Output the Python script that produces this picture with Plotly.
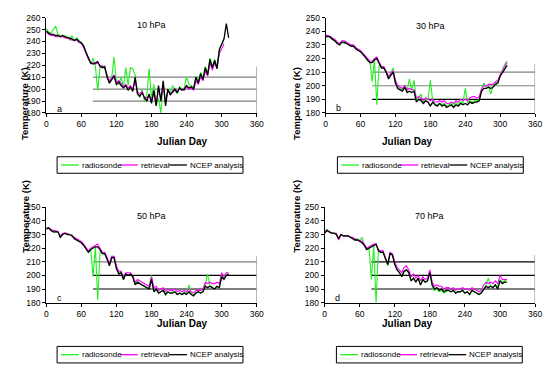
import plotly.graph_objects as go

W, H = 548, 366
days = list(range(0, 316, 4))  # Julian day 0..312

# ---------------- 10 hPa ----------------
nc10 = [249, 247, 246, 246, 245, 245, 244, 245, 244, 243, 243, 242, 241, 242, 240,
        239, 236, 231, 226, 222, 221, 222, 223, 219, 218, 219, 210, 205, 208, 211,
        204, 206, 203, 201, 203, 199, 202, 198, 210, 196, 194, 197, 193, 190, 196,
        188, 199, 186, 203, 190, 207, 186, 200, 195, 198, 200, 197, 201, 199, 200,
        203, 201, 202, 200, 210, 205, 213, 208, 218, 212, 225, 218, 224, 217, 233,
        237, 242, 255, 243]
rt10 = [248, 246, 245, 245, 244, 244, 244, 244, 243, 243, 242, 241, 241, 241, 239,
        238, 235, 230, 225, 222, 222, 221, 222, 220, 219, 218, 212, 207, 209, 212,
        206, 207, 205, 202, 204, 201, 203, 200, 207, 198, 196, 198, 192, 193, 194,
        191, 197, 188, 200, 192, 203, 189, 199, 196, 197, 199, 198, 200, 200, 199,
        202, 200, 201, 199, 207, 204, 210, 207, 215, 211, 222, 216, 222, 218, 230,
        234, 238, None, None]
rs10 = [251, 248, 247, 250, 253, 246, 245, 244, 245, 244, 241, 245, 240, 243, 241,
        239, 237, 231, 225, 221, 226, 219, 199, 218, 220, 217, 212, 206, 210, 227,
        205, 204, 210, 202, 218, 203, 218, 217, 212, 196, 193, 200, 190, 195, 217,
        192, 204, 187, 192, 180, 205, 190, 199, 197, 203, 199, 196, 202, 200, 201,
        210, 204, 203, 201, 211, 207, 214, 209, 219, 213, 226, 219, 225, 219, 234,
        238, 243, None, None]

# ---------------- 30 hPa ----------------
nc30 = [236, 236, 236, 234, 233, 231, 230, 232, 232, 231, 230, 229, 229, 227, 226,
        225, 223, 221, 219, 217, 217, 219, 220, 216, 213, 213, 210, 205, 208, 210,
        202, 198, 197, 196, 199, 195, 196, 195, 196, 188, 190, 189, 187, 189, 188,
        185, 188, 186, 185, 187, 185, 186, 184, 185, 186, 184, 186, 185, 187, 186,
        187, 186, 188, 187, 188, 188, 189, 196, 198, 198, 199, 198, 199, 201, 202,
        207, 210, 213, 215]
rt30 = [237, 237, 236, 235, 234, 232, 231, 233, 233, 232, 231, 230, 230, 228, 227,
        226, 224, 222, 220, 218, 218, 220, 221, 217, 214, 214, 211, 207, 209, 211,
        204, 200, 199, 198, 200, 197, 198, 197, 197, 191, 192, 191, 189, 191, 190,
        189, 190, 188, 188, 189, 188, 189, 187, 187, 188, 187, 189, 188, 190, 189,
        190, 189, 191, 192, 192, 191, 192, 198, 200, 200, 201, 201, 201, 203, 204,
        208, 211, 214, 217]
rs30 = [236, 237, 235, 234, 233, 231, 231, 232, 231, 231, 230, 230, 229, 228, 226,
        225, 223, 222, 218, 218, 203, 219, 186, 215, 214, 213, 210, 206, 209, 213,
        203, 199, 198, 197, 200, 196, 205, 197, 204, 189, 191, 194, 188, 190, 190,
        204, 189, 186, 186, 187, 186, 187, 185, 186, 187, 185, 188, 186, 188, 187,
        198, 188, 189, 188, 189, 189, 190, 197, 202, 199, 199, 194, 200, 202, 203,
        208, 212, 216, 218]

# ---------------- 50 hPa ----------------
nc50 = [234, 235, 233, 232, 232, 232, 228, 230, 231, 230, 230, 229, 227, 226, 225,
        224, 222, 219, 217, 219, 220, 221, 221, 219, 216, 216, 212, 207, 213, 213,
        205, 201, 202, 197, 201, 200, 201, 199, 193, 195, 194, 193, 192, 191, 190,
        197, 188, 190, 187, 188, 189, 186, 188, 187, 187, 188, 186, 187, 186, 187,
        186, 188, 186, 185, 187, 188, 187, 188, 192, 191, 192, 191, 190, 192, 191,
        199, 197, 200, 201]
rt50 = [235, 235, 234, 233, 233, 232, 229, 231, 231, 231, 230, 229, 228, 227, 226,
        225, 223, 220, 218, 220, 221, 222, 223, 220, 217, 217, 213, 209, 214, 214,
        207, 203, 203, 199, 202, 202, 202, 200, 195, 197, 196, 195, 194, 193, 192,
        199, 191, 192, 189, 190, 191, 188, 190, 189, 189, 190, 188, 189, 188, 189,
        188, 190, 188, 187, 189, 189, 189, 190, 195, 194, 195, 194, 194, 195, 194,
        202, 199, 202, 202]
rs50 = [234, 235, 233, 232, 232, 232, 228, 230, 231, 230, 230, 230, 227, 226, 225,
        224, 222, 220, 217, 219, 199, 221, 182, 218, 216, 216, 212, 208, 213, 213,
        205, 202, 203, 197, 201, 200, 201, 199, 194, 196, 194, 193, 192, 191, 191,
        200, 188, 190, 187, 188, 189, 185, 188, 187, 188, 188, 186, 187, 186, 188,
        187, 193, 186, 186, 187, 188, 187, 188, 193, 201, 192, 191, 190, 192, 191,
        200, 198, 201, 201]

# ---------------- 70 hPa ----------------
nc70 = [231, 233, 232, 231, 231, 230, 227, 230, 229, 229, 229, 228, 227, 226, 226,
        225, 224, 222, 219, 220, 221, 222, 223, 218, 217, 217, 212, 208, 216, 215,
        208, 204, 202, 199, 203, 204, 202, 196, 198, 195, 198, 193, 197, 195, 196,
        202, 193, 190, 191, 189, 190, 188, 189, 189, 188, 189, 187, 188, 188, 189,
        187, 188, 186, 189, 188, 187, 186, 187, 190, 192, 191, 192, 191, 193, 190,
        196, 194, 195, 195]
rt70 = [232, 233, 232, 231, 231, 231, 226, 230, 229, 229, 229, 228, 228, 227, 226,
        226, 225, 223, 220, 221, 222, 223, 223, 219, 218, 218, 213, 209, 217, 216,
        210, 206, 204, 202, 206, 207, 204, 199, 201, 198, 200, 196, 199, 197, 198,
        204, 195, 192, 193, 192, 192, 190, 191, 191, 190, 191, 189, 190, 190, 191,
        190, 190, 189, 191, 190, 189, 188, 189, 193, 195, 194, 195, 194, 196, 194,
        200, 197, 197, 197]
rs70 = [232, 234, 232, 231, 231, 230, 227, 230, 229, 229, 229, 228, 227, 226, 227,
        225, 228, 222, 219, 220, 197, 222, 180, 218, 217, 217, 212, 207, 216, 215,
        208, 204, 202, 199, 203, 204, 202, 196, 198, 196, 198, 193, 197, 195, 196,
        203, 192, 189, 190, 188, 189, 187, 188, 189, 188, 189, 187, 188, 188, 189,
        187, 188, 186, 189, 188, 187, 186, 188, 190, 193, 198, 192, 191, 193, 192,
        197, 195, 196, 197]

series_names = ["radiosonde", "retrieval", "NCEP analysis"]
series_colors = ["#22ee22", "#ff00ff", "#000000"]
ref_levels = [190, 200, 210]
ref_start_day = 80

panels = [
    dict(title="10 hPa", tag="a", data=[rs10, rt10, nc10], ymax=260, box=(45, 259, 13, 111),
         ref_colors=["#808080", "#808080", "#808080"], vtop=219),
    dict(title="30 hPa", tag="b", data=[rs30, rt30, nc30], ymax=250, box=(329, 542, 13, 111),
         ref_colors=["#000000", "#808080", "#808080"], vtop=216),
    dict(title="50 hPa", tag="c", data=[rs50, rt50, nc50], ymax=250, box=(45, 259, 208, 306),
         ref_colors=["#000000", "#000000", "#808080"], vtop=214),
    dict(title="70 hPa", tag="d", data=[rs70, rt70, nc70], ymax=250, box=(328, 542, 208, 306),
         ref_colors=["#000000", "#000000", "#000000"], vtop=215),
]

FONT = "Liberation Sans, Arial, sans-serif"
fig = go.Figure()
shapes, annotations = [], []
layout = {}


def px(xp):
    return xp / W


def py(yp):
    return 1 - yp / H


for i, p in enumerate(panels):
    k = "" if i == 0 else str(i + 1)
    xa, ya = "x" + k, "y" + k
    l, r, t, b = p["box"]
    for vals, name, col in zip(p["data"], series_names, series_colors):
        fig.add_trace(go.Scatter(x=days, y=vals, mode="lines", name=name,
                                 line=dict(color=col, width=1.1 if col != "#000000" else 1.3),
                                 xaxis=xa, yaxis=ya, showlegend=False, connectgaps=False))
    layout["xaxis" + k] = dict(domain=[px(l), px(r)], anchor=ya, range=[0, 360], dtick=60, tick0=0,
                               showline=True, linecolor="black", linewidth=1, ticks="outside",
                               ticklen=3, tickcolor="black", showgrid=False, zeroline=False,
                               tickfont=dict(size=8.5, family=FONT, color="black"))
    layout["yaxis" + k] = dict(domain=[py(b), py(t)], anchor=xa, range=[180, p["ymax"]], dtick=10,
                               showline=True, linecolor="black", linewidth=1, ticks="outside",
                               ticklen=3, tickcolor="black", showgrid=False, zeroline=False,
                               tickfont=dict(size=8.5, family=FONT, color="black"))
    # reference lines
    for lev, c in zip(ref_levels, p["ref_colors"]):
        shapes.append(dict(type="line", xref=xa, yref=ya, x0=ref_start_day, x1=360, y0=lev, y1=lev,
                           line=dict(color=c, width=1.2), layer="below"))
    shapes.append(dict(type="line", xref=xa, yref=ya, x0=360, x1=360, y0=180, y1=p["vtop"],
                       line=dict(color="#909090", width=1.2), layer="below"))
    # panel title & tag
    annotations.append(dict(xref=xa, yref=ya, x=180, y=p["ymax"] - 6.5, text=p["title"],
                            showarrow=False, font=dict(size=9, family=FONT, color="black")))
    annotations.append(dict(xref=xa, yref=ya, x=22, y=183.5, text=p["tag"],
                            showarrow=False, font=dict(size=9, family=FONT, color="black")))
    # axis titles
    annotations.append(dict(xref="paper", yref="paper", x=px((l + r) / 2 + 4), y=py(b + 29),
                            text="<b>Julian Day</b>", showarrow=False,
                            font=dict(size=10, family=FONT, color="black")))
    annotations.append(dict(xref="paper", yref="paper", x=px(l - 29), y=py((t + b) / 2),
                            text="<b>Temperature (K)</b>", textangle=-90, showarrow=False,
                            font=dict(size=9.5, family=FONT, color="black")))
    # legend box (drawn)
    lx = l + 11 if l < 100 else l + 12
    ly = b + 45
    shapes.append(dict(type="rect", xref="paper", yref="paper", x0=px(lx), x1=px(lx + 189),
                       y0=py(ly + 17), y1=py(ly), line=dict(color="black", width=1),
                       fillcolor="white"))
    offsets = [4, 64, 114]
    for off, name, col in zip(offsets, series_names, series_colors):
        shapes.append(dict(type="line", xref="paper", yref="paper", x0=px(lx + off),
                           x1=px(lx + off + 18), y0=py(ly + 8.5), y1=py(ly + 8.5),
                           line=dict(color=col, width=1.3)))
        annotations.append(dict(xref="paper", yref="paper", x=px(lx + off + 19), y=py(ly + 8.5),
                                xanchor="left", yanchor="middle", text=name, showarrow=False,
                                font=dict(size=8, family=FONT, color="black")))

fig.update_layout(width=W, height=H, margin=dict(l=0, r=0, t=0, b=0),
                  paper_bgcolor="white", plot_bgcolor="white", showlegend=False,
                  shapes=shapes, annotations=annotations, **layout)
fig.write_html("out.html", config={"displayModeBar": False},
               post_script="document.body.style.margin='0';document.body.style.overflow='hidden';")
